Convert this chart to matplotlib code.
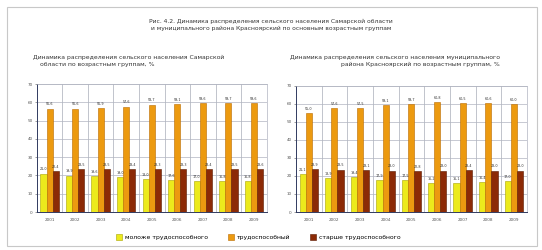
import numpy as np
import matplotlib
matplotlib.use("Agg")
import matplotlib.pyplot as plt
from matplotlib.patches import Rectangle, Patch

years = ["2001", "2002", "2003", "2004", "2005", "2006", "2007", "2008", "2009"]

# Samara region, rural population by age group, %
region_young = [21.0, 19.9, 19.6, 19.0, 18.0, 17.6, 17.0, 16.8, 16.8]
region_work = [56.6, 56.6, 56.9, 57.6, 58.7, 59.1, 59.6, 59.7, 59.6]
region_old = [22.4, 23.5, 23.5, 23.4, 23.3, 23.3, 23.4, 23.5, 23.6]

# Krasnoyarsky municipal district, %
district_young = [21.1, 18.9, 19.4, 17.9, 17.5, 16.2, 16.1, 16.4, 17.0]
district_work = [55.0, 57.6, 57.5, 59.1, 59.7, 60.8, 60.5, 60.6, 60.0]
district_old = [23.9, 23.5, 23.1, 23.0, 22.8, 23.0, 23.4, 23.0, 23.0]

series_names = ["моложе трудоспособного", "трудоспособный", "старше трудоспособного"]
colors = ["#ecea1c", "#ec9a10", "#8c2a06"]
edges = ["#a8a400", "#b86a00", "#5a1800"]

title = ("Рис. 4.2. Динамика распределения сельского населения Самарской области\n"
         "и муниципального района Красноярский по основным возрастным группам")


def fmt(v):
    return f"{v:.1f}".replace(".", ",")


def bar_chart(ax, young, work, old):
    x = np.arange(len(years))
    w = 0.24
    for k, vals in enumerate([young, work, old]):
        pos = x + (k - 1) * w
        ax.bar(pos, vals, width=w, color=colors[k], edgecolor=edges[k],
               linewidth=0.4, zorder=3)
        for p, v in zip(pos, vals):
            ax.text(p, v + 1.2, fmt(v), ha="center", va="bottom",
                    fontsize=2.4, color="#333333", zorder=4)
    ax.set_xlim(-0.5, len(years) - 0.5)
    ax.set_ylim(0, 70)
    ax.set_yticks(range(0, 71, 10))
    ax.set_xticks(x)
    ax.set_xticklabels(years)
    ax.set_xticks(np.arange(0.5, len(years) - 1, 1), minor=True)
    ax.tick_params(axis="y", labelsize=3, length=1.5, width=0.4, pad=1.5,
                   colors="#555555")
    ax.tick_params(axis="x", which="major", labelsize=3, length=0, pad=4,
                   colors="#555555")
    ax.tick_params(axis="x", which="minor", length=0)
    ax.grid(axis="y", color="#b0b4c0", linewidth=0.5, zorder=0)
    ax.grid(axis="x", which="minor", color="#a8acb8", linewidth=0.5, zorder=0)
    for s in ["top", "right"]:
        ax.spines[s].set_color("#b0b4c0")
        ax.spines[s].set_linewidth(0.5)
    for s in ["left", "bottom"]:
        ax.spines[s].set_color("#303a60")
        ax.spines[s].set_linewidth(0.7)


fig = plt.figure(figsize=(5.42, 2.5), dpi=100)
fig.patch.set_facecolor("white")

# outer frame
fig.patches.append(Rectangle((0.012, 0.016), 0.978, 0.956, transform=fig.transFigure,
                             fill=False, edgecolor="#c8c8c8", linewidth=0.8))

fig.text(0.5, 0.90, title, ha="center", va="center", fontsize=4.3,
         color="#333333", linespacing=1.5)

fig.text(0.06, 0.77, "Динамика распределения сельского населения Самарской",
         ha="left", va="center", fontsize=4.4, color="#333333")
fig.text(0.18, 0.742, "области по возрастным группам, %",
         ha="center", va="center", fontsize=4.4, color="#333333")
fig.text(0.535, 0.77, "Динамика распределения сельского населения муниципального",
         ha="left", va="center", fontsize=4.4, color="#333333")
fig.text(0.775, 0.742, "района Красноярский по возрастным группам, %",
         ha="center", va="center", fontsize=4.4, color="#333333")

ax1 = fig.add_axes([0.068, 0.152, 0.424, 0.512])
bar_chart(ax1, region_young, region_work, region_old)

ax2 = fig.add_axes([0.546, 0.152, 0.426, 0.505])
bar_chart(ax2, district_young, district_work, district_old)

handles = [Patch(facecolor=c, edgecolor=e, linewidth=0.4) for c, e in zip(colors, edges)]
fig.legend(handles, series_names, loc="center", bbox_to_anchor=(0.477, 0.052),
           ncol=3, frameon=False, fontsize=4.4, handlelength=1.0, handleheight=1.0,
           columnspacing=3.2, handletextpad=0.5)

fig.savefig("out.png", dpi=100)
